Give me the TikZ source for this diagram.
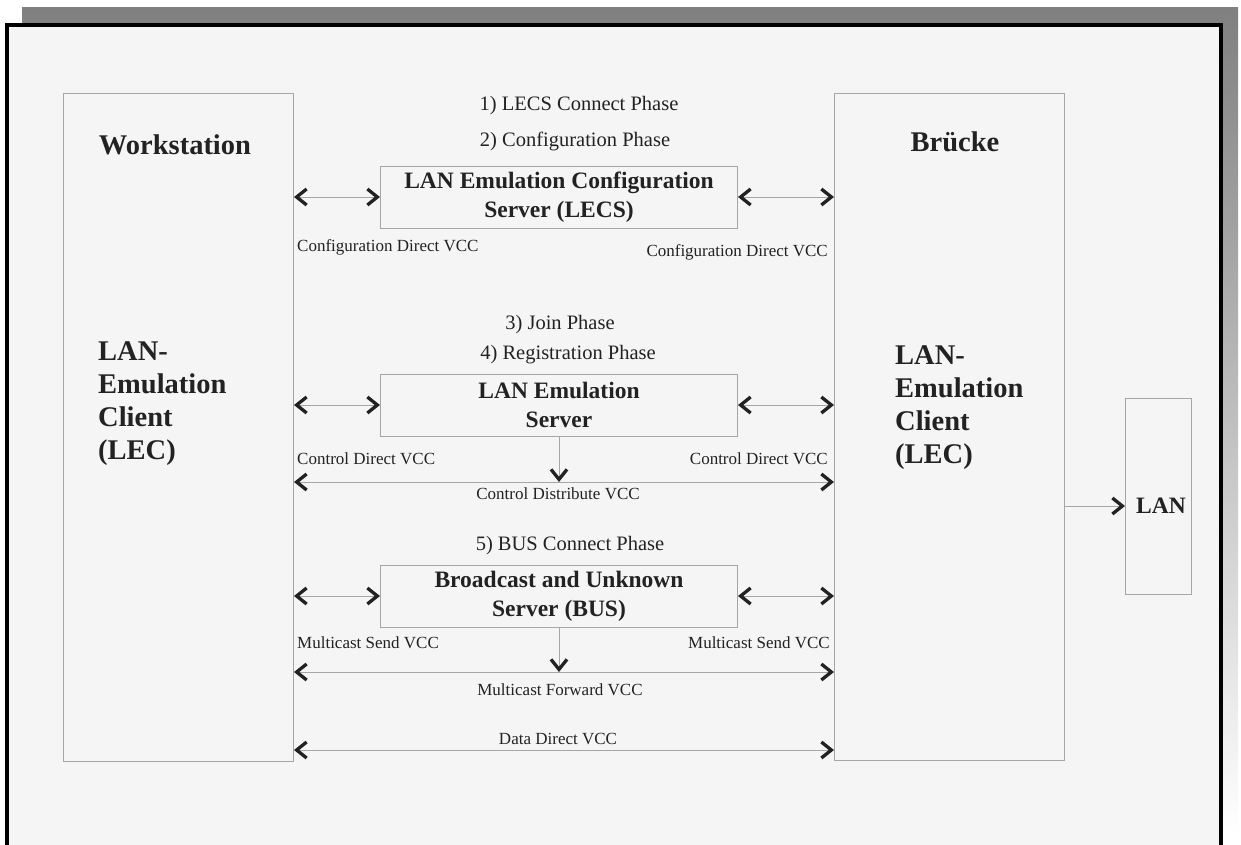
\documentclass[tikz,border=0pt]{standalone}
\usepackage{fontspec}
\setmainfont{Liberation Serif}
\usetikzlibrary{arrows.meta}
\definecolor{ink}{HTML}{222222}
\definecolor{rule}{HTML}{A6A6A6}
\definecolor{paper}{HTML}{F5F5F5}
\definecolor{shade}{HTML}{808080}
\tikzset{
  chev/.tip={Straight Barb[length=10pt,width=16pt,line width=3.3pt,color=ink]},
  frame box/.style={draw=rule, line width=1pt, inner sep=0pt, anchor=north west},
  server/.style={draw=rule, line width=1pt, inner sep=0pt, minimum width=357pt,
    minimum height=62pt, align=center, text=ink,
    font=\fontsize{23.5}{29}\selectfont\bfseries},
  big/.style={text=ink, inner sep=0pt, font=\fontsize{28.5}{33}\selectfont\bfseries},
  phase/.style={text=ink, inner sep=0pt, font=\fontsize{20.5}{24}\selectfont},
  lab/.style={text=ink, inner sep=0pt, font=\fontsize{17}{20}\selectfont},
  link/.style={draw=rule, line width=1pt, chev-chev},
  drop/.style={draw=rule, line width=1pt, -chev},
}
\begin{document}
\begin{tikzpicture}[x=1pt,y=-1pt]
  \useasboundingbox (0,0) rectangle (1241,844);
  \clip (0,0) rectangle (1241,844);

  % page with drop shadow
  \fill[shade] (22,7) rectangle (1238,833);
  \draw[line width=4pt, fill=paper] (7,25) rectangle (1221,880);

  % end stations
  \node[frame box, minimum width=230pt, minimum height=668pt] (ws) at (63,93) {};
  \node[frame box, minimum width=230pt, minimum height=667pt] (br) at (834,93) {};
  \node[frame box, minimum width=66pt, minimum height=196pt] (lan) at (1125,398) {};

  \node[big] (wst) at (175,145) {Workstation};
  \node[big, align=left, anchor=west] (lecl) at (98,404) {LAN-\\Emulation\\Client\\(LEC)};
  \node[big] (brt) at (955,142) {Brücke};
  \node[big, align=left, anchor=west] (lecr) at (895,408) {LAN-\\Emulation\\Client\\(LEC)};
  \node[text=ink, inner sep=0pt, font=\fontsize{23.5}{28}\selectfont\bfseries] (lant) at (1161,506) {LAN};

  % servers
  \node[server] (lecs) at (559,197) {LAN Emulation Configuration\\Server (LECS)};
  \node[server] (les) at (559,405) {LAN Emulation\\Server};
  \node[server] (bus) at (559,596) {Broadcast and Unknown\\Server (BUS)};

  % phases
  \node[phase] (p1) at (579,106) {1) LECS Connect Phase};
  \node[phase] (p2) at (575,141) {2) Configuration Phase};
  \node[phase] (p3) at (560,325) {3) Join Phase};
  \node[phase] (p4) at (568,355) {4) Registration Phase};
  \node[phase] (p5) at (570,546) {5) BUS Connect Phase};

  % heights of the shared VCC lines
  \coordinate (cdy) at (0,482);
  \coordinate (mfy) at (0,672);
  \coordinate (ddy) at (0,750);

  % configuration direct VCCs
  \draw[link] (ws.east |- lecs.west) -- (lecs.west);
  \draw[link] (lecs.east) -- (br.west |- lecs.east);
  \node[lab, anchor=west] (cfl) at (297,247) {Configuration Direct VCC};
  \node[lab, anchor=east] (cfr) at (828,252) {Configuration Direct VCC};

  % control direct and control distribute VCCs
  \draw[link] (ws.east |- les.west) -- (les.west);
  \draw[link] (les.east) -- (br.west |- les.east);
  \node[lab, anchor=west] (ctl) at (297,459) {Control Direct VCC};
  \node[lab, anchor=east] (ctr) at (828,459) {Control Direct VCC};
  \draw[drop] (les.south) -- (les.south |- cdy);
  \draw[link] (ws.east |- cdy) -- (br.west |- cdy);
  \node[lab] (cd) at (558,494) {Control Distribute VCC};

  % multicast send and multicast forward VCCs
  \draw[link] (ws.east |- bus.west) -- (bus.west);
  \draw[link] (bus.east) -- (br.west |- bus.east);
  \node[lab, anchor=west] (msl) at (297,643) {Multicast Send VCC};
  \node[lab, anchor=east] (msr) at (830,643) {Multicast Send VCC};
  \draw[drop] (bus.south) -- (bus.south |- mfy);
  \draw[link] (ws.east |- mfy) -- (br.west |- mfy);
  \node[lab] (mf) at (560,690) {Multicast Forward VCC};

  % data direct VCC
  \draw[link] (ws.east |- ddy) -- (br.west |- ddy);
  \node[lab] (dd) at (558,739) {Data Direct VCC};

  % bridge to LAN
  \draw[drop] (br.east |- lant) -- (lan.west |- lant);
\end{tikzpicture}
\end{document}
